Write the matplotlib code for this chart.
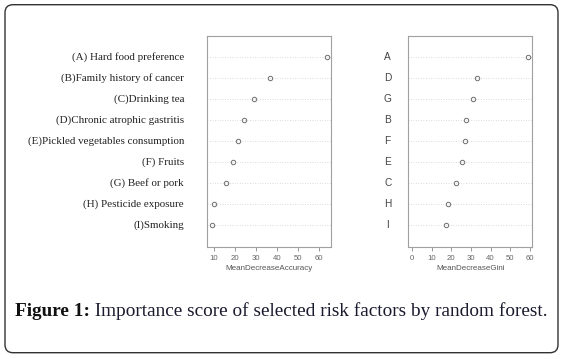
import matplotlib
matplotlib.use("Agg")
import matplotlib.pyplot as plt
from matplotlib.patches import FancyBboxPatch

# Data (top to bottom)
acc_labels = ["(A) Hard food preference", "(B)Family history of cancer", "(C)Drinking tea",
              "(D)Chronic atrophic gastritis", "(E)Pickled vegetables consumption",
              "(F) Fruits", "(G) Beef or pork", "(H) Pesticide exposure", "(I)Smoking"]
acc_values = [64.0, 36.7, 29.0, 24.4, 21.4, 18.9, 15.9, 10.1, 9.0]
gini_labels = ["A", "D", "G", "B", "F", "E", "C", "H", "I"]
gini_values = [58.8, 33.1, 30.8, 27.7, 26.9, 25.5, 22.6, 18.5, 17.3]
acc_ticks = [10, 20, 30, 40, 50, 60]
gini_ticks = [0, 10, 20, 30, 40, 50, 60]

W, H = 564, 359
fig = plt.figure(figsize=(W / 100, H / 100), dpi=100)

def px_axes(x0, y0, x1, y1):
    return fig.add_axes([x0 / W, 1 - y1 / H, (x1 - x0) / W, (y1 - y0) / H])

def style(ax, values, labels, xlim, ticks, xlabel, label_font, label_size, label_color, label_x_px, label_ha):
    n = len(values)
    ys = list(range(n, 0, -1))
    ax.set_ylim(0, n + 1)
    ax.set_xlim(*xlim)
    ax.hlines(ys, xlim[0], xlim[1], colors="#cfcfcf", linestyles=(0, (1, 2)), linewidth=0.6, zorder=1)
    ax.plot(values, ys, linestyle="none", marker="o", markersize=3.2, mfc="none", mec="#6e6e6e", mew=0.7, zorder=3)
    for s in ax.spines.values():
        s.set_color("#a0a0a0")
        s.set_linewidth(0.8)
    ax.set_yticks([])
    ax.set_xticks(ticks)
    ax.tick_params(axis="x", direction="out", length=3, width=0.6, color="#888888",
                   labelsize=5.6, labelcolor="#666666", pad=3)
    ax.set_xlabel(xlabel, fontsize=5.8, color="#555555", labelpad=2, family="Liberation Sans")
    for lab in ax.get_xticklabels():
        lab.set_family("Liberation Sans")
    for lab, y in zip(labels, ys):
        yf = ax.transData.transform((0, y))[1]
        fig.text(label_x_px / W, yf / (H), lab, ha=label_ha, va="center",
                 fontsize=label_size, family=label_font, color=label_color)

ax1 = px_axes(207, 36, 331, 246.5)
ax2 = px_axes(408.3, 36, 532.3, 246.5)
style(ax1, acc_values, acc_labels, (6.7, 65.7), acc_ticks, "MeanDecreaseAccuracy",
      "Liberation Serif", 7.9, "#222222", 184, "right")
style(ax2, gini_values, gini_labels, (-1.9, 61.2), gini_ticks, "MeanDecreaseGini",
      "Liberation Sans", 7.3, "#444444", 387.7, "center")

# Frame
frame = FancyBboxPatch((5 / 100, (H - 352.7) / 100), (558 - 5) / 100, (352.7 - 4.7) / 100,
                       boxstyle="round,pad=0,rounding_size=0.08", transform=fig.dpi_scale_trans,
                       fill=False, edgecolor="#333333", linewidth=1.0)
fig.patches.append(frame)

# Caption fitted to width
cap_bold = "Figure 1:"
cap_rest = " Importance score of selected risk factors by random forest."
renderer = fig.canvas.get_renderer()
target = 546 - 15
size = 13.0
for _ in range(4):
    t1 = fig.text(15 / W, 1 - 311 / H, cap_bold, fontsize=size, fontweight="bold",
                  family="Liberation Serif", va="center", ha="left", color="#111111")
    w1 = t1.get_window_extent(renderer).width
    t2 = fig.text((15 + w1) / W, 1 - 311 / H, cap_rest, fontsize=size,
                  family="Liberation Serif", va="center", ha="left", color="#1a1a2e")
    w2 = t2.get_window_extent(renderer).width
    total = w1 + w2
    t1.remove(); t2.remove()
    size *= target / total
t1 = fig.text(15 / W, 1 - 311 / H, cap_bold, fontsize=size, fontweight="bold",
              family="Liberation Serif", va="center", ha="left", color="#111111")
w1 = t1.get_window_extent(renderer).width
fig.text((15 + w1) / W, 1 - 311 / H, cap_rest, fontsize=size,
         family="Liberation Serif", va="center", ha="left", color="#1a1a2e")

fig.savefig("out.png", dpi=100)
